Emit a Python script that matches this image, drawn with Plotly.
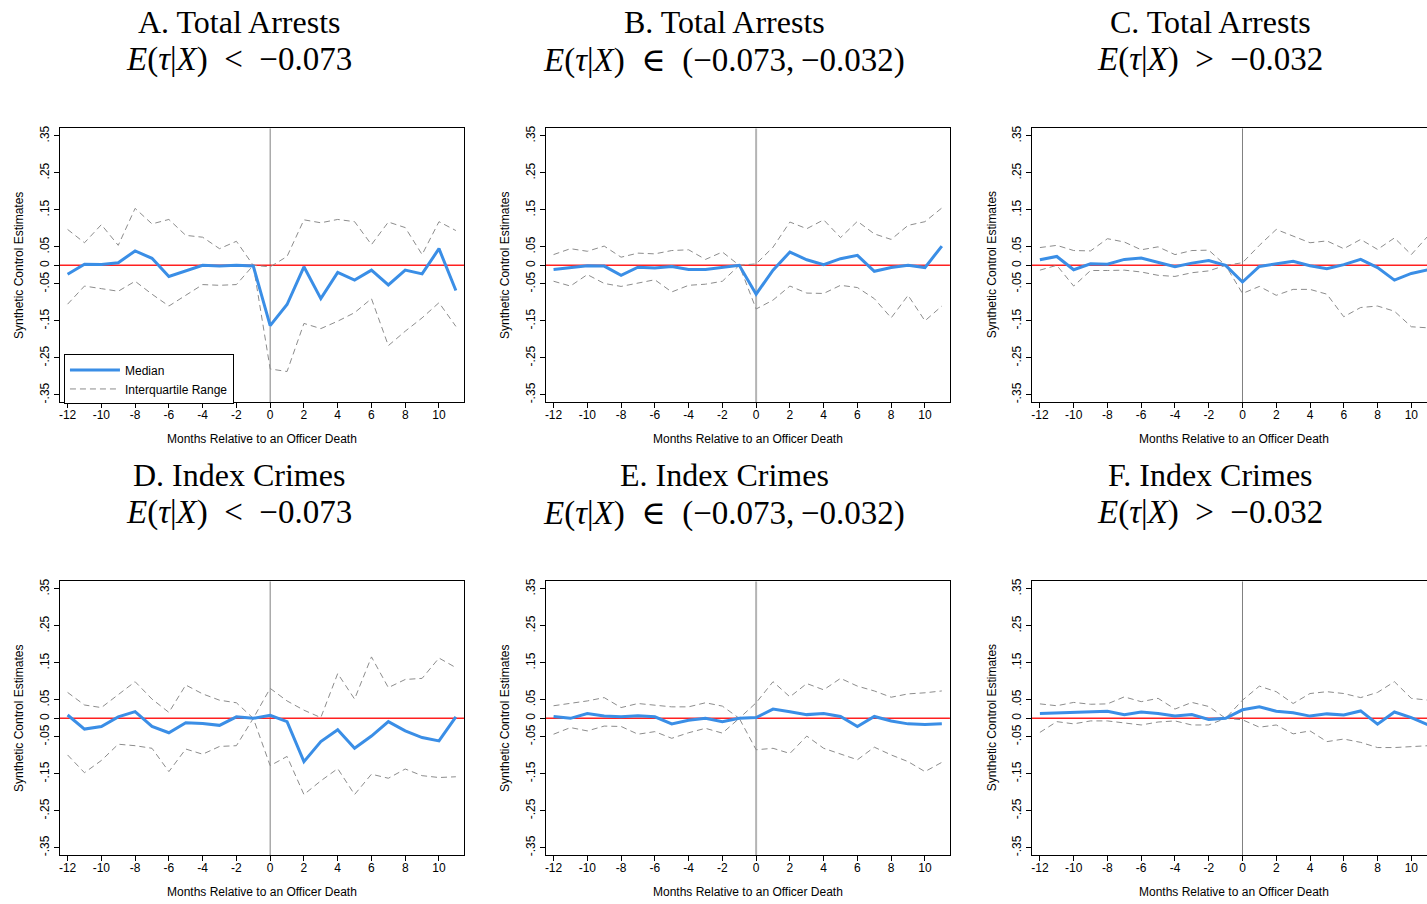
import plotly.graph_objects as go

# ---------------- data ----------------
months = list(range(-12, 12))
xtick_vals = list(range(-12, 11, 2))
xtick_text = [str(v) for v in xtick_vals]
ytick_vals = [-0.35, -0.25, -0.15, -0.05, 0, 0.05, 0.15, 0.25, 0.35]
ytick_text = ["-.35", "-.25", "-.15", "-.05", "0", ".05", ".15", ".25", ".35"]

titles_line1 = ["A. Total Arrests", "B. Total Arrests", "C. Total Arrests",
                "D. Index Crimes", "E. Index Crimes", "F. Index Crimes"]
titles_line2 = ["<i>E</i>(<i>τ</i>|<i>X</i>)\u2002&lt;\u2002−0.073",
                "<i>E</i>(<i>τ</i>|<i>X</i>)\u2002<span style=\"font-family:'DejaVu Serif'\">∈</span>\u2002(−0.073,\u2009−0.032)",
                "<i>E</i>(<i>τ</i>|<i>X</i>)\u2002&gt;\u2002−0.032"] * 2

a_med = [-0.024, 0.003, 0.002, 0.007, 0.039, 0.019, -0.030, -0.015, 0.0, -0.002, 0.0, -0.002,
         -0.163, -0.106, -0.004, -0.090, -0.019, -0.040, -0.013, -0.053, -0.013, -0.023, 0.045, -0.068]
a_hi = [0.097, 0.061, 0.110, 0.054, 0.154, 0.112, 0.124, 0.081, 0.076, 0.045, 0.065, 0.0,
        -0.004, 0.024, 0.123, 0.115, 0.124, 0.118, 0.056, 0.117, 0.102, 0.029, 0.118, 0.094]
a_lo = [-0.105, -0.056, -0.063, -0.070, -0.043, -0.078, -0.110, -0.081, -0.052, -0.054, -0.052, 0.0,
        -0.280, -0.287, -0.157, -0.171, -0.151, -0.128, -0.090, -0.217, -0.178, -0.142, -0.101, -0.165]

b_med = [-0.011, -0.007, -0.001, -0.002, -0.027, -0.005, -0.007, -0.003, -0.011, -0.011, -0.005, 0.0,
         -0.078, -0.013, 0.036, 0.015, 0.002, 0.018, 0.027, -0.016, -0.006, 0.0, -0.006, 0.052]
b_hi = [0.029, 0.045, 0.038, 0.052, 0.022, 0.033, 0.031, 0.040, 0.042, 0.016, 0.036, 0.0,
        0.004, 0.049, 0.117, 0.099, 0.123, 0.075, 0.119, 0.085, 0.070, 0.108, 0.118, 0.155]
b_lo = [-0.043, -0.056, -0.025, -0.049, -0.057, -0.048, -0.039, -0.072, -0.054, -0.051, -0.043, 0.0,
        -0.118, -0.094, -0.056, -0.075, -0.076, -0.054, -0.060, -0.090, -0.142, -0.081, -0.150, -0.110]

c_med = [0.015, 0.024, -0.012, 0.004, 0.003, 0.016, 0.020, 0.009, -0.004, 0.006, 0.013, 0.0,
         -0.045, -0.003, 0.005, 0.011, -0.001, -0.009, 0.002, 0.016, -0.006, -0.040, -0.022, -0.012]
c_hi = [0.048, 0.054, 0.040, 0.039, 0.072, 0.063, 0.042, 0.050, 0.029, 0.040, 0.041, 0.0,
        0.007, 0.054, 0.097, 0.079, 0.061, 0.066, 0.045, 0.070, 0.043, 0.074, 0.029, 0.080]
c_lo = [-0.013, 0.0, -0.056, -0.014, -0.014, -0.013, -0.018, -0.027, -0.030, -0.020, -0.015, 0.0,
        -0.076, -0.057, -0.081, -0.065, -0.065, -0.078, -0.139, -0.114, -0.110, -0.124, -0.166, -0.169]

d_med = [0.009, -0.029, -0.022, 0.004, 0.018, -0.022, -0.039, -0.012, -0.014, -0.019, 0.004, 0.0,
         0.008, -0.009, -0.117, -0.063, -0.031, -0.081, -0.048, -0.009, -0.034, -0.052, -0.061, 0.004]
d_hi = [0.070, 0.036, 0.029, 0.065, 0.099, 0.052, 0.016, 0.090, 0.066, 0.049, 0.042, 0.0,
        0.081, 0.047, 0.022, 0.002, 0.121, 0.052, 0.166, 0.083, 0.105, 0.108, 0.163, 0.137]
d_lo = [-0.099, -0.147, -0.114, -0.070, -0.074, -0.081, -0.144, -0.083, -0.097, -0.076, -0.074, 0.0,
        -0.128, -0.103, -0.206, -0.169, -0.136, -0.206, -0.151, -0.162, -0.137, -0.155, -0.160, -0.158]

e_med = [0.005, 0.0, 0.013, 0.006, 0.004, 0.007, 0.004, -0.015, -0.005, 0.0, -0.009, 0.0,
         0.002, 0.025, 0.018, 0.010, 0.013, 0.005, -0.022, 0.005, -0.007, -0.015, -0.017, -0.015]
e_hi = [0.034, 0.040, 0.047, 0.056, 0.029, 0.040, 0.036, 0.031, 0.031, 0.042, 0.033, 0.0,
        0.042, 0.099, 0.058, 0.094, 0.077, 0.108, 0.087, 0.074, 0.057, 0.066, 0.069, 0.074]
e_lo = [-0.043, -0.025, -0.034, -0.021, -0.022, -0.043, -0.036, -0.054, -0.039, -0.027, -0.040, 0.0,
        -0.085, -0.081, -0.095, -0.048, -0.081, -0.097, -0.112, -0.078, -0.099, -0.117, -0.144, -0.119]

f_med = [0.013, 0.014, 0.017, 0.018, 0.019, 0.010, 0.017, 0.013, 0.006, 0.010, -0.003, 0.0,
         0.023, 0.031, 0.019, 0.015, 0.006, 0.012, 0.009, 0.020, -0.016, 0.017, 0.002, -0.018]
f_hi = [0.039, 0.034, 0.043, 0.038, 0.039, 0.058, 0.045, 0.054, 0.025, 0.043, 0.032, 0.0,
        0.049, 0.087, 0.072, 0.040, 0.067, 0.072, 0.067, 0.056, 0.070, 0.099, 0.054, 0.049]
f_lo = [-0.038, -0.009, -0.015, -0.007, -0.007, -0.013, -0.018, -0.010, -0.007, -0.018, -0.018, 0.0,
        -0.004, -0.024, -0.018, -0.042, -0.034, -0.063, -0.056, -0.065, -0.079, -0.079, -0.077, -0.074]

medians = [a_med, b_med, c_med, d_med, e_med, f_med]
uppers = [a_hi, b_hi, c_hi, d_hi, e_hi, f_hi]
lowers = [a_lo, b_lo, c_lo, d_lo, e_lo, f_lo]

# ---------------- layout geometry ----------------
W, H = 1427, 904
col_left_px = [58.7, 545.0, 1031.7]
panel_w_px = 404.6
row_top_px = [126.0, 581.0]
panel_h_px = 275.0
title_cx_px = [238, 724, 1210]
title_y_px = [[19, 57], [474, 512]]
x_full = [-12.47, 11.48]
y_range = [-0.37, 0.37]
px_per_month = panel_w_px / (x_full[1] - x_full[0])

BLUE = "#3a8ee6"
DASH_GREY = "#8c8c8c"
SANS = "Liberation Sans, Arial, sans-serif"
SERIF = "Liberation Serif, Times New Roman, serif"

fig = go.Figure()
annotations = []
shapes = []
layout_axes = {}

for i in range(6):
    r, c = divmod(i, 3)
    k = i + 1
    xa = "x" if k == 1 else f"x{k}"
    ya = "y" if k == 1 else f"y{k}"
    left = col_left_px[c]
    right = min(left + panel_w_px, W)
    xr = [x_full[0], x_full[0] + (right - left) / px_per_month]
    top = row_top_px[r]
    bot = top + panel_h_px
    dom_x = [left / W, right / W]
    dom_y = [1 - bot / H, 1 - top / H]
    cut = (left + panel_w_px) > W

    layout_axes["xaxis" if k == 1 else f"xaxis{k}"] = dict(
        domain=dom_x, range=xr, anchor=ya, tickvals=xtick_vals, ticktext=xtick_text,
        showline=True, linecolor="black", linewidth=1, mirror=True,
        ticks="outside", ticklen=5, tickcolor="black", tickwidth=1, ticklabelstandoff=-4,
        showgrid=False, zeroline=False, fixedrange=True,
        tickfont=dict(family=SANS, size=12, color="black"))
    layout_axes["yaxis" if k == 1 else f"yaxis{k}"] = dict(
        domain=dom_y, range=y_range, anchor=xa, tickvals=ytick_vals, ticktext=ytick_text,
        showline=True, linecolor="black", linewidth=1, mirror=(not cut),
        ticks="outside", ticklen=5, tickcolor="black", tickwidth=1, tickangle=-90,
        showgrid=False, zeroline=False, fixedrange=True,
        tickfont=dict(family=SANS, size=12, color="black"))

    # reference lines
    light = (c == 1)
    shapes.append(dict(type="line", xref=xa, yref=f"{ya} domain", x0=0, x1=0, y0=0, y1=1,
                       line=dict(color="#b4b4b4" if light else "#808080", width=2 if light else 1),
                       layer="below"))
    shapes.append(dict(type="line", xref=f"{xa} domain", yref=ya, x0=0, x1=1, y0=0, y1=0,
                       line=dict(color="#ff2020", width=1.5), layer="below"))

    fig.add_trace(go.Scatter(x=months, y=uppers[i], mode="lines", xaxis=xa, yaxis=ya,
                             line=dict(color=DASH_GREY, width=1, dash="6px,4px"),
                             name="Interquartile Range", legendrank=2, showlegend=(i == 0)))
    fig.add_trace(go.Scatter(x=months, y=lowers[i], mode="lines", xaxis=xa, yaxis=ya,
                             line=dict(color=DASH_GREY, width=1, dash="6px,4px"),
                             name="Interquartile Range", showlegend=False))
    fig.add_trace(go.Scatter(x=months, y=medians[i], mode="lines", xaxis=xa, yaxis=ya,
                             line=dict(color=BLUE, width=3),
                             name="Median", legendrank=1, showlegend=(i == 0)))

    # titles
    annotations.append(dict(text=titles_line1[i], xref="paper", yref="paper",
                            x=title_cx_px[c] / W, y=1 - title_y_px[r][0] / H,
                            xanchor="center", yanchor="middle", showarrow=False,
                            font=dict(family=SERIF, size=32, color="black")))
    annotations.append(dict(text=titles_line2[i], xref="paper", yref="paper",
                            x=title_cx_px[c] / W, y=1 - title_y_px[r][1] / H,
                            xanchor="center", yanchor="middle", showarrow=False,
                            font=dict(family=SERIF, size=33, color="black")))
    # axis titles
    annotations.append(dict(text="Months Relative to an Officer Death", xref="paper", yref="paper",
                            x=(left + panel_w_px / 2) / W, y=1 - (bot + 37) / H,
                            xanchor="center", yanchor="middle", showarrow=False,
                            font=dict(family=SANS, size=12, color="black")))
    annotations.append(dict(text="Synthetic Control Estimates", xref="paper", yref="paper",
                            x=(left - 40) / W, y=1 - (top + panel_h_px / 2) / H,
                            xanchor="center", yanchor="middle", showarrow=False, textangle=-90,
                            font=dict(family=SANS, size=12, color="black")))

fig.update_layout(
    width=W, height=H, margin=dict(l=0, r=0, t=0, b=0),
    paper_bgcolor="white", plot_bgcolor="white",
    annotations=annotations, shapes=shapes,
    showlegend=True,
    legend=dict(x=63 / W, y=1 - 353 / H, xanchor="left", yanchor="top",
                bgcolor="white", bordercolor="black", borderwidth=1, itemwidth=50,
                font=dict(family=SANS, size=12, color="black"), tracegroupgap=0),
    **layout_axes)

fig.write_html("out.html")
